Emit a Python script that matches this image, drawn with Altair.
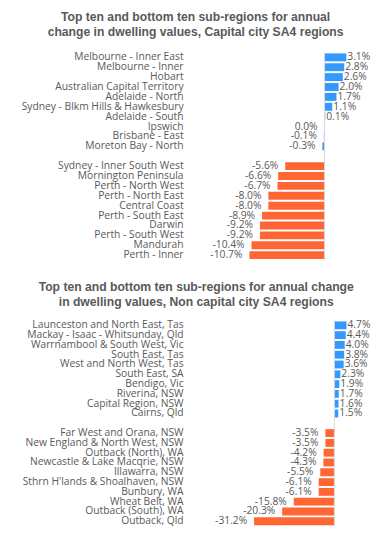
import altair as alt
import pandas as pd

# ---- data ----
cap_top_names = ["Melbourne - Inner East", "Melbourne - Inner", "Hobart",
                 "Australian Capital Territory", "Adelaide - North",
                 "Sydney - Blkm Hills & Hawkesbury", "Adelaide - South",
                 "Ipswich", "Brisbane - East", "Moreton Bay - North"]
cap_top_vals = [3.1, 2.8, 2.6, 2.0, 1.7, 1.1, 0.1, 0.0, -0.1, -0.3]
cap_bot_names = ["Sydney - Inner South West", "Mornington Peninsula",
                 "Perth - North West", "Perth - North East", "Central Coast",
                 "Perth - South East", "Darwin", "Perth - South West",
                 "Mandurah", "Perth - Inner"]
cap_bot_vals = [-5.6, -6.6, -6.7, -8.0, -8.0, -8.9, -9.2, -9.2, -10.4, -10.7]

reg_top_names = ["Launceston and North East, Tas", "Mackay - Isaac - Whitsunday, Qld",
                 "Warrnambool & South West, Vic", "South East, Tas",
                 "West and North West, Tas", "South East, SA", "Bendigo, Vic",
                 "Riverina, NSW", "Capital Region, NSW", "Cairns, Qld"]
reg_top_vals = [4.7, 4.4, 4.0, 3.8, 3.6, 2.3, 1.9, 1.7, 1.6, 1.5]
reg_bot_names = ["Far West and Orana, NSW", "New England & North West, NSW",
                 "Outback (North), WA", "Newcastle & Lake Macqrie, NSW",
                 "Illawarra, NSW", "Sthrn H'lands & Shoalhaven, NSW",
                 "Bunbury, WA", "Wheat Belt, WA", "Outback (South), WA",
                 "Outback, Qld"]
reg_bot_vals = [-3.5, -3.5, -4.2, -4.3, -5.5, -6.1, -6.1, -15.8, -20.3, -31.2]

title_cap = ["Top ten and bottom ten sub-regions for annual",
             "change in dwelling values, Capital city SA4 regions"]
title_reg = ["Top ten and bottom ten sub-regions for annual change",
             "in dwelling values, Non capital city SA4 regions"]

BLUE = "#3399FF"
ORANGE = "#FF6633"
GREY = "#595959"
FONT = "Open Sans"
FS = 10.4


def make_df(tn, tv, bn, bv):
    rows = []
    for n, v in zip(tn, tv):
        rows.append({"name": n, "value": v, "zero": 0.0, "group": "top", "label": f"{v:.1f}%"})
    for n, v in zip(bn, bv):
        rows.append({"name": n, "value": v, "zero": 0.0, "group": "bottom", "label": f"{v:.1f}%"})
    return pd.DataFrame(rows)


def panel(tn, tv, bn, bv, title, domain, height, title_offset):
    df = make_df(tn, tv, bn, bv)
    order = list(tn) + [" "] + list(bn)
    y = alt.Y("name:N",
              scale=alt.Scale(domain=order, paddingInner=0.2, paddingOuter=0.1),
              axis=alt.Axis(title=None, domain=False, ticks=False, labelFont=FONT,
                            labelFontSize=FS, labelColor=GREY, labelPadding=5,
                            labelLimit=300))
    xscale = alt.Scale(domain=domain, nice=False, zero=False)
    x = alt.X("value:Q", scale=xscale, axis=None)
    base = alt.Chart(df)
    bars = base.mark_bar().encode(
        x=x, x2="zero:Q", y=y,
        color=alt.Color("group:N", scale=alt.Scale(domain=["top", "bottom"], range=[BLUE, ORANGE]),
                        legend=None))
    rule = base.transform_aggregate(zero="min(zero)").mark_rule(
        color="#D9D9D9", strokeWidth=1).encode(x=alt.X("zero:Q", scale=xscale, axis=None))
    pos_txt = base.transform_filter(alt.datum.value > 0).mark_text(
        align="left", dx=1, font=FONT, fontSize=FS, color=GREY).encode(x=x, y=y, text="label:N")
    neg_txt = base.transform_filter(alt.datum.value <= 0).mark_text(
        align="right", dx=-7, font=FONT, fontSize=FS, color=GREY).encode(x=x, y=y, text="label:N")
    return alt.layer(bars, rule, pos_txt, neg_txt).properties(
        width=180, height=height,
        title=alt.Title(title, font="Liberation Sans", fontSize=12.3, fontWeight="bold",
                        color=GREY, anchor="middle", frame="bounds", lineHeight=15,
                        offset=title_offset))


top = panel(cap_top_names, cap_top_vals, cap_bot_names, cap_bot_vals, title_cap,
            [-19.44, 5.91], 210, 14)
bottom = panel(reg_top_names, reg_top_vals, reg_bot_names, reg_bot_vals, title_reg,
               [-56.9, 12.3], 208, 12)

chart = alt.vconcat(top, bottom, spacing=20).properties(
    padding={"left": 13, "top": 0, "right": 0, "bottom": 0}
).configure_view(stroke=None)

chart.save("out.html", embed_options={"renderer": "svg", "actions": False})
